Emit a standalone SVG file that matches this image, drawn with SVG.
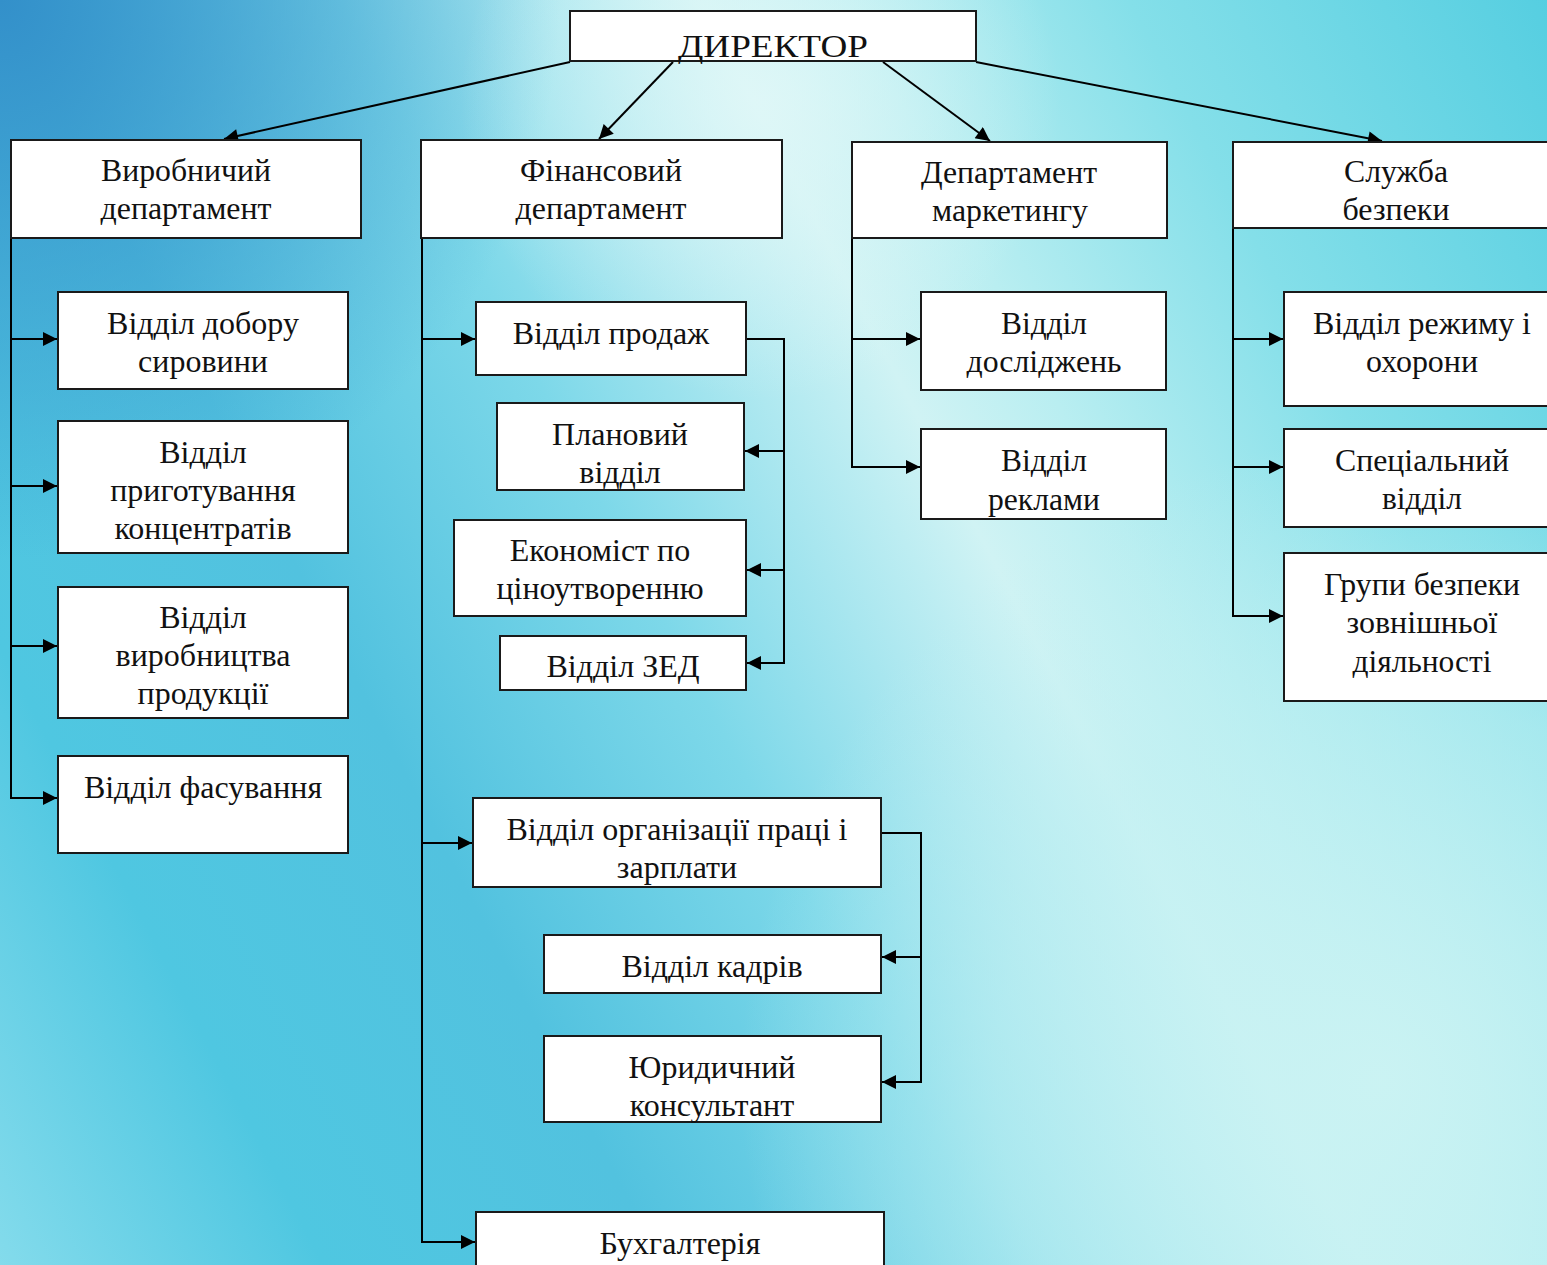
<svg xmlns="http://www.w3.org/2000/svg" width="1547" height="1265" viewBox="0 0 1547 1265">
<defs>
<linearGradient id="bg" x1="-532" y1="278" x2="1240" y2="-650" gradientUnits="userSpaceOnUse">
<stop offset="0" stop-color="#86dcec"/>
<stop offset="0.15" stop-color="#4fc7e1"/>
<stop offset="0.3" stop-color="#52c2df"/>
<stop offset="0.45" stop-color="#7dd8e9"/>
<stop offset="0.575" stop-color="#bdedf2"/>
<stop offset="0.61" stop-color="#d0f3f4"/>
<stop offset="0.675" stop-color="#b9eef1"/>
<stop offset="0.8" stop-color="#84dfe9"/>
<stop offset="1" stop-color="#52cde0"/>
</linearGradient>
<radialGradient id="g4" cx="0" cy="0" r="560" gradientUnits="userSpaceOnUse">
<stop offset="0" stop-color="#3390ca" stop-opacity="1"/>
<stop offset="1" stop-color="#3390ca" stop-opacity="0"/>
</radialGradient>
<radialGradient id="g1" cx="760" cy="100" r="300" gradientUnits="userSpaceOnUse">
<stop offset="0" stop-color="#e2f8f8" stop-opacity="0.8"/>
<stop offset="1" stop-color="#e2f8f8" stop-opacity="0"/>
</radialGradient>
<radialGradient id="g2" cx="1380" cy="1080" r="640" gradientUnits="userSpaceOnUse">
<stop offset="0" stop-color="#cbf3f3" stop-opacity="0.95"/>
<stop offset="0.6" stop-color="#c0f0f2" stop-opacity="0.6"/>
<stop offset="1" stop-color="#c0f0f2" stop-opacity="0"/>
</radialGradient>
<marker id="ah" viewBox="0 0 10 10" refX="10" refY="5" markerWidth="18" markerHeight="14" markerUnits="userSpaceOnUse" orient="auto">
<path d="M0,0 L10,5 L0,10 z" fill="#000"/>
</marker>
<style>
.box{fill:#fff;stroke:#1a1a1a;stroke-width:2}
.t{font-family:"Liberation Serif","Times New Roman",serif;font-size:32px;fill:#111;text-anchor:middle}
.c{font-family:"Liberation Serif","Times New Roman",serif;font-size:32px;fill:#111;text-anchor:middle}
.ar{fill:none;stroke:#000;stroke-width:2;marker-end:url(#ah)}
</style>
</defs>
<rect width="1547" height="1265" fill="url(#bg)"/>
<rect width="1547" height="1265" fill="url(#g4)"/>
<rect width="1547" height="1265" fill="url(#g1)"/>
<rect width="1547" height="1265" fill="url(#g2)"/>

<g id="connectors">
<path class="ar" d="M570,62 L224,139"/>
<path class="ar" d="M673,62 L599,139"/>
<path class="ar" d="M883,62 L990,141"/>
<path class="ar" d="M976,62 L1382,141"/>
<path class="ar" d="M11,238 V798 H57"/>
<path class="ar" d="M11,339 H57"/>
<path class="ar" d="M11,486 H57"/>
<path class="ar" d="M11,646 H57"/>
<path class="ar" d="M422,238 V1242 H475"/>
<path class="ar" d="M422,339 H475"/>
<path class="ar" d="M422,843 H472"/>
<path class="ar" d="M747,339 H784 V663 H747"/>
<path class="ar" d="M784,451 H745"/>
<path class="ar" d="M784,570 H747"/>
<path class="ar" d="M882,833 H921 V1082 H882"/>
<path class="ar" d="M921,957 H882"/>
<path class="ar" d="M852,238 V467 H920"/>
<path class="ar" d="M852,339 H920"/>
<path class="ar" d="M1233,228 V616 H1283"/>
<path class="ar" d="M1233,339 H1283"/>
<path class="ar" d="M1233,467 H1283"/>
</g>

<g id="director">
<rect class="box" x="570" y="11" width="406" height="50"/>
<text class="c" x="773" y="57" font-size="40" textLength="190" lengthAdjust="spacingAndGlyphs">ДИРЕКТОР</text>
</g>

<g id="dept-production">
<rect class="box" x="11" y="140" width="350" height="98"/>
<text class="c" x="186" y="181" textLength="170" lengthAdjust="spacingAndGlyphs">Виробничий</text>
<text class="c" x="186" y="219" textLength="171" lengthAdjust="spacingAndGlyphs">департамент</text>
</g>
<g id="dept-finance">
<rect class="box" x="421" y="140" width="361" height="98"/>
<text class="c" x="601" y="181" textLength="162" lengthAdjust="spacingAndGlyphs">Фінансовий</text>
<text class="c" x="601" y="219" textLength="171" lengthAdjust="spacingAndGlyphs">департамент</text>
</g>
<g id="dept-marketing">
<rect class="box" x="852" y="142" width="315" height="96"/>
<text class="c" x="1009" y="183" textLength="176" lengthAdjust="spacingAndGlyphs">Департамент</text>
<text class="c" x="1010" y="221" textLength="156" lengthAdjust="spacingAndGlyphs">маркетингу</text>
</g>
<g id="dept-security">
<rect class="box" x="1233" y="142" width="330" height="86"/>
<text class="c" x="1396" y="182" textLength="104" lengthAdjust="spacingAndGlyphs">Служба</text>
<text class="c" x="1396" y="220" textLength="107" lengthAdjust="spacingAndGlyphs">безпеки</text>
</g>

<g id="raw-materials">
<rect class="box" x="58" y="292" width="290" height="97"/>
<text class="t" x="203" y="334">Відділ добору</text>
<text class="t" x="203" y="372">сировини</text>
</g>
<g id="concentrates">
<rect class="box" x="58" y="421" width="290" height="132"/>
<text class="t" x="203" y="463">Відділ</text>
<text class="t" x="203" y="501">приготування</text>
<text class="t" x="203" y="539">концентратів</text>
</g>
<g id="production">
<rect class="box" x="58" y="587" width="290" height="131"/>
<text class="t" x="203" y="628">Відділ</text>
<text class="t" x="203" y="666">виробництва</text>
<text class="t" x="203" y="704">продукції</text>
</g>
<g id="packing">
<rect class="box" x="58" y="756" width="290" height="97"/>
<text class="t" x="203" y="798">Відділ фасування</text>
</g>

<g id="sales">
<rect class="box" x="476" y="302" width="270" height="73"/>
<text class="t" x="611" y="344">Відділ продаж</text>
</g>
<g id="planning">
<rect class="box" x="497" y="403" width="247" height="87"/>
<text class="t" x="620" y="445">Плановий</text>
<text class="t" x="620" y="483">відділ</text>
</g>
<g id="pricing">
<rect class="box" x="454" y="520" width="292" height="96"/>
<text class="t" x="600" y="561">Економіст по</text>
<text class="t" x="600" y="599">ціноутворенню</text>
</g>
<g id="fea">
<rect class="box" x="500" y="636" width="246" height="54"/>
<text class="t" x="623" y="677">Відділ ЗЕД</text>
</g>
<g id="labor">
<rect class="box" x="473" y="798" width="408" height="89"/>
<text class="t" x="677" y="840">Відділ організації праці і</text>
<text class="t" x="677" y="878">зарплати</text>
</g>
<g id="hr">
<rect class="box" x="544" y="935" width="337" height="58"/>
<text class="t" x="712" y="977">Відділ кадрів</text>
</g>
<g id="legal">
<rect class="box" x="544" y="1036" width="337" height="86"/>
<text class="t" x="712" y="1078">Юридичний</text>
<text class="t" x="712" y="1116">консультант</text>
</g>
<g id="accounting">
<rect class="box" x="476" y="1212" width="408" height="70"/>
<text class="t" x="680" y="1254">Бухгалтерія</text>
</g>

<g id="research">
<rect class="box" x="921" y="292" width="245" height="98"/>
<text class="c" x="1044" y="334" textLength="86" lengthAdjust="spacingAndGlyphs">Відділ</text>
<text class="c" x="1044" y="372" textLength="155" lengthAdjust="spacingAndGlyphs">досліджень</text>
</g>
<g id="advertising">
<rect class="box" x="921" y="429" width="245" height="90"/>
<text class="c" x="1044" y="471" textLength="86" lengthAdjust="spacingAndGlyphs">Відділ</text>
<text class="c" x="1044" y="510" textLength="112" lengthAdjust="spacingAndGlyphs">реклами</text>
</g>

<g id="guard">
<rect class="box" x="1284" y="292" width="275" height="114"/>
<text class="c" x="1422" y="334" textLength="218" lengthAdjust="spacingAndGlyphs">Відділ режиму і</text>
<text class="c" x="1422" y="372" textLength="112" lengthAdjust="spacingAndGlyphs">охорони</text>
</g>
<g id="special">
<rect class="box" x="1284" y="429" width="275" height="98"/>
<text class="c" x="1422" y="471" textLength="174" lengthAdjust="spacingAndGlyphs">Спеціальний</text>
<text class="c" x="1422" y="509" textLength="80" lengthAdjust="spacingAndGlyphs">відділ</text>
</g>
<g id="external">
<rect class="box" x="1284" y="553" width="275" height="148"/>
<text class="c" x="1422" y="595" textLength="196" lengthAdjust="spacingAndGlyphs">Групи безпеки</text>
<text class="c" x="1422" y="633" textLength="151" lengthAdjust="spacingAndGlyphs">зовнішньої</text>
<text class="c" x="1422" y="672" textLength="139" lengthAdjust="spacingAndGlyphs">діяльності</text>
</g>
</svg>
